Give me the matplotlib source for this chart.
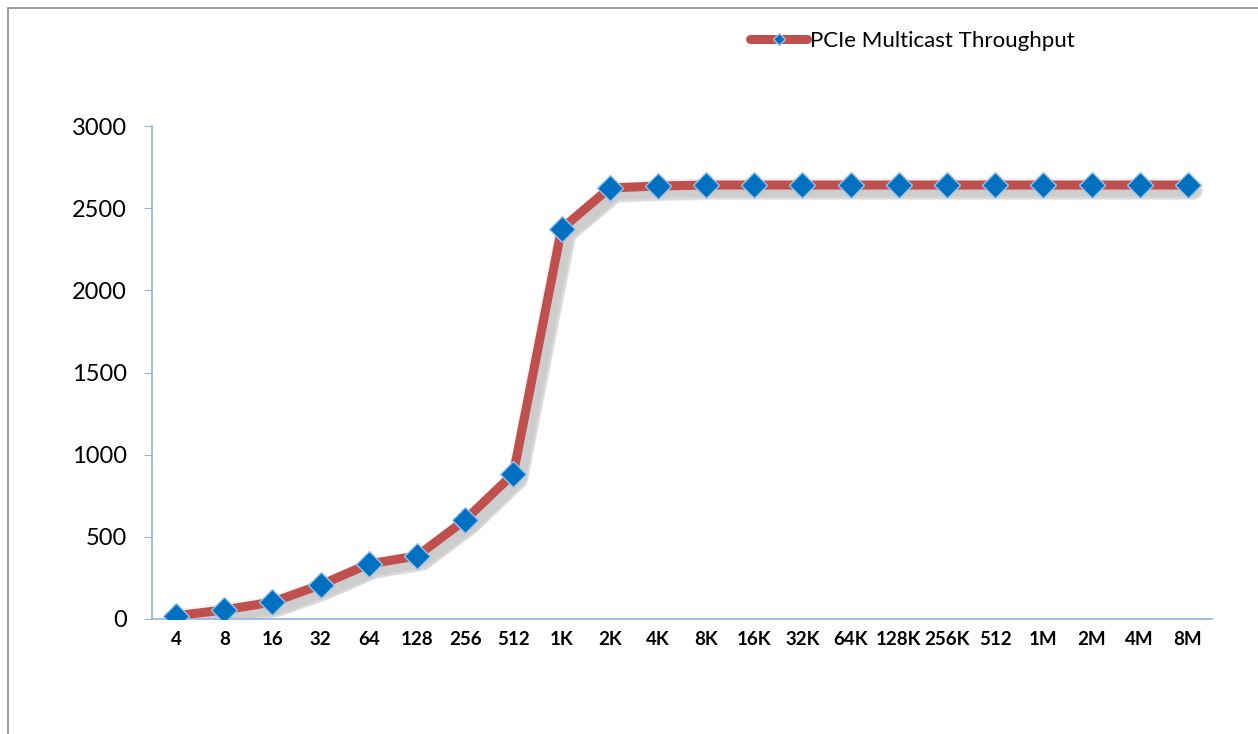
import matplotlib.pyplot as plt
import matplotlib.patheffects as pe
from matplotlib.patches import Rectangle

sizes = ['4', '8', '16', '32', '64', '128', '256', '512', '1K', '2K', '4K', '8K',
         '16K', '32K', '64K', '128K', '256K', '512', '1M', '2M', '4M', '8M']
throughput = [20, 55, 103, 207, 335, 383, 603, 883, 2374, 2623, 2635, 2641,
              2641, 2641, 2641, 2641, 2641, 2641, 2641, 2641, 2641, 2641]

plt.rcParams['font.family'] = ['Lato', 'DejaVu Sans']

fig = plt.figure(figsize=(12.58, 7.34), dpi=100)
ax = fig.add_axes([0.1208, 0.1567, 0.8426, 0.6716])

x = list(range(len(sizes)))
# soft blurred shadow built from a few faint layers
shadow = [pe.SimpleLineShadow(offset=(o, -o), shadow_color='black', alpha=0.05, linewidth=w)
          for o, w in [(3, 16), (4, 13), (5, 10), (5, 7)]] + [pe.Normal()]
ax.plot(x, throughput, color='#C0504D', linewidth=6.5, solid_capstyle='round',
        path_effects=shadow, zorder=2)
ax.plot(x, throughput, linestyle='none', marker='D', markersize=13,
        markerfacecolor='#0070C0', markeredgecolor='#9DC3E6', markeredgewidth=1,
        zorder=3)
ax.plot([], [], color='#C0504D', linewidth=6.5, solid_capstyle='round', marker='D',
        markersize=6, markerfacecolor='#0070C0', markeredgecolor='#9DC3E6',
        label='PCIe Multicast Throughput')

ax.set_xlim(-0.5, len(sizes) - 0.5)
ax.set_ylim(0, 3000)
ax.set_yticks([0, 500, 1000, 1500, 2000, 2500, 3000])
ax.set_xticks(x)
ax.set_xticklabels(sizes, fontweight='bold', fontsize=13.5)
ax.tick_params(axis='y', labelsize=17, length=6, color='#95B3D7', pad=12)
ax.tick_params(axis='x', length=0, pad=9)

for s in ['top', 'right']:
    ax.spines[s].set_visible(False)
for s in ['left', 'bottom']:
    ax.spines[s].set_color('#95B3D7')
    ax.spines[s].set_linewidth(1.2)

ax.legend(loc='center', bbox_to_anchor=(912 / 1258, 1 - 41 / 734), bbox_transform=fig.transFigure,
          frameon=False, fontsize=16, handlelength=2.6, handletextpad=0.1, numpoints=1)

fig.patches.append(Rectangle((8 / 1258, -0.1), 1.2, 1.1 - 8 / 734, transform=fig.transFigure,
                             fill=False, edgecolor='#8C8C8C', linewidth=1.2))

plt.savefig('out.png', dpi=100)
